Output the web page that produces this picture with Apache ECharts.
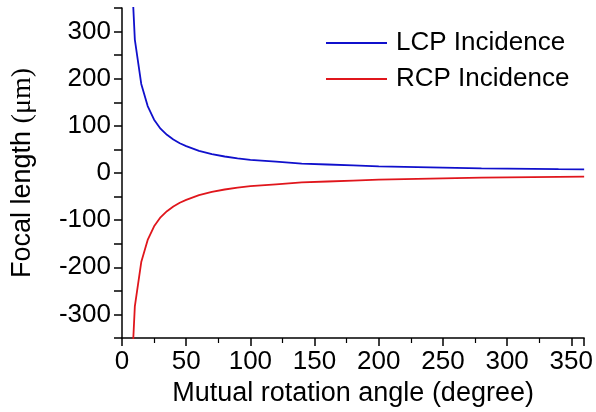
<!DOCTYPE html>
<html>
<head>
<meta charset="utf-8">
<script src="https://cdn.jsdelivr.net/npm/echarts@6/dist/echarts.min.js"></script>
<style>
html,body{margin:0;padding:0;background:#fff;}
#main{width:596px;height:412px;}
</style>
</head>
<body>
<div id="main"></div>
<script>
// Mutual rotation angle (degree)
var angles = [5, 10, 15, 20, 25, 30, 35, 40, 45, 50, 60, 70, 80, 90, 100, 120, 140, 160, 180, 200, 220, 240, 260, 280, 300, 320, 340, 360];
// Focal length (um), LCP incidence
var lcpValues = [566, 283, 189, 142, 113, 94, 81, 71, 63, 57, 47, 40, 35, 31, 28, 24, 20, 18, 16, 14, 13, 12, 11, 10, 9.4, 8.8, 8.3, 7.9];
// Focal length (um), RCP incidence
var rcpValues = [-566, -283, -189, -142, -113, -94, -81, -71, -63, -57, -47, -40, -35, -31, -28, -24, -20, -18, -16, -14, -13, -12, -11, -10, -9.4, -8.8, -8.3, -7.9];
var seriesNames = ['LCP Incidence', 'RCP Incidence'];
var seriesColors = ['#1010cc', '#e0161c'];
var xTicks = [0, 50, 100, 150, 200, 250, 300, 350];
var yTicks = [-300, -200, -100, 0, 100, 200, 300];

function pairs(xs, ys) {
  return xs.map(function (x, i) { return [x, ys[i]]; });
}

var FONT = 'Liberation Sans, Arial, sans-serif';
var chart = echarts.init(document.getElementById('main'), null, {renderer: 'canvas'});
chart.setOption({
  animation: false,
  backgroundColor: '#fff',
  grid: {left: 122, right: 11, top: 8, bottom: 74, containLabel: false},
  legend: {
    orient: 'vertical',
    left: 321,
    top: 25,
    itemWidth: 61,
    itemHeight: 2,
    itemGap: 10,
    icon: 'rect',
    textStyle: {fontFamily: FONT, fontSize: 26, color: '#000', padding: [0, 0, 0, 4]},
    data: seriesNames
  },
  xAxis: {
    type: 'value',
    min: 0,
    max: 360,
    interval: 50,
    name: 'Mutual rotation angle (degree)',
    nameLocation: 'middle',
    nameGap: 38,
    nameTextStyle: {fontFamily: FONT, fontSize: 27, color: '#000'},
    axisLine: {show: true, onZero: false, lineStyle: {color: '#000', width: 1.5}},
    axisTick: {show: true, inside: false, length: 8, lineStyle: {color: '#000', width: 1.5}},
    minorTick: {show: true, splitNumber: 2, length: 5, lineStyle: {color: '#000', width: 1.2}},
    splitLine: {show: false},
    axisLabel: {
      fontFamily: FONT, fontSize: 26, color: '#000', margin: 11,
      showMaxLabel: false,
      formatter: function (v) { return xTicks.indexOf(v) >= 0 ? String(v) : ''; }
    }
  },
  yAxis: {
    type: 'value',
    min: -350,
    max: 350,
    interval: 50,
    name: '{a|Focal length }{b|(\u03bcm)}',
    nameLocation: 'middle',
    nameGap: 85,
    nameTextStyle: {
      color: '#000',
      rich: {
        a: {fontFamily: FONT, fontSize: 27, color: '#000'},
        b: {fontFamily: 'Liberation Serif, Times New Roman, serif', fontSize: 28, color: '#000'}
      }
    },
    axisLine: {show: true, onZero: false, lineStyle: {color: '#000', width: 1.5}},
    axisTick: {show: true, inside: false, length: 8, lineStyle: {color: '#000', width: 1.5}},
    splitLine: {show: false},
    axisLabel: {
      fontFamily: FONT, fontSize: 26, color: '#000', margin: 11,
      formatter: function (v) { return yTicks.indexOf(v) >= 0 ? String(v) : ''; }
    }
  },
  series: [
    {
      name: seriesNames[0],
      type: 'line',
      data: pairs(angles, lcpValues),
      symbol: 'none',
      clip: true,
      lineStyle: {color: seriesColors[0], width: 1.8},
      itemStyle: {color: seriesColors[0]}
    },
    {
      name: seriesNames[1],
      type: 'line',
      data: pairs(angles, rcpValues),
      symbol: 'none',
      clip: true,
      lineStyle: {color: seriesColors[1], width: 1.8},
      itemStyle: {color: seriesColors[1]}
    }
  ]
});
</script>
</body>
</html>
